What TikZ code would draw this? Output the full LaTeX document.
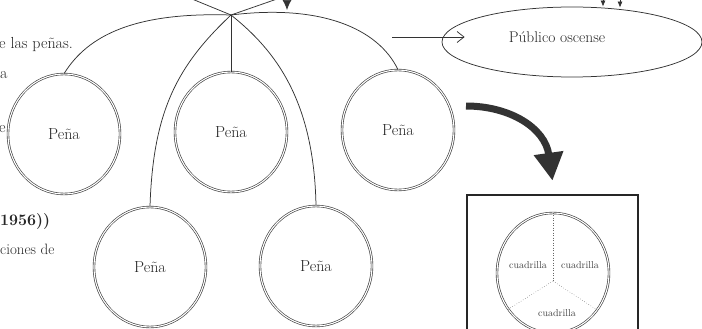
\documentclass[tikz,border=0pt]{standalone}
\usetikzlibrary{shapes.geometric,arrows.meta}
\begin{document}
\begin{tikzpicture}[x=1pt,y=-1pt,
  pena/.style={ellipse, draw=black!75, double, double distance=1.1pt, line width=0.65pt,
    minimum width=112pt, minimum height=120pt, inner sep=0pt,
    font=\fontsize{16}{19}\selectfont, text=black!85},
  conn/.style={draw=black!80, line width=0.75pt},
  lt/.style={anchor=west, inner sep=0pt, font=\fontsize{16}{19}\selectfont, text=black!85},
  cl/.style={inner sep=0pt, font=\fontsize{10}{12}\selectfont, text=black!75},
  divider/.style={draw=black!60, dotted, line width=0.5pt}]
\useasboundingbox (0,0) rectangle (702,329);

% left text fragments
\node[lt] (l1) at (-1,45) {e las peñas.};
\node[lt] (l2) at (0,75) {a};
\node[lt] (l3) at (-1,129) {e.};
\node[lt, font=\fontsize{16}{19}\selectfont\bfseries] (l4) at (0,222) {1956))};
\node[lt, font=\fontsize{15}{18}\selectfont] (l5) at (0,249) {ciones de};

% peñas
\node[pena] (p1) at (64,134) {Peña};
\node[pena] (p2) at (231,132) {Peña};
\node[pena] (p3) at (398,130) {Peña};
\node[pena] (p4) at (150,267) {Peña};
\node[pena] (p5) at (316,266) {Peña};

% hub and connectors
\coordinate (hub) at (231,15);
\coordinate (ul) at (192,-1);
\coordinate (ur) at (277,-1);
\draw[conn] (p1.north) .. controls (88,35) and (135,12) .. (hub)
            .. controls (320,4) and (378,28) .. (p3.north);
\draw[conn] (hub) -- (ul);
\draw[conn] (hub) -- (ur);
\draw[conn] (hub) -- (p2.north);
\draw[conn] (hub) .. controls (178,65) and (153,110) .. (p4.north);
\draw[conn] (hub) .. controls (275,50) and (314,100) .. (p5.north);

\coordinate (da) at (287,-3);
\coordinate (daT) at (287,10);
\draw[conn, -{Latex[length=10pt,width=9pt]}] (da) -- (daT);

% Público oscense
\node[ellipse, draw=black!80, line width=0.75pt, minimum width=260pt, minimum height=70pt,
      inner sep=0pt] (pub) at (572,42) {};
\node[inner sep=0pt, font=\fontsize{15.5}{18}\selectfont, text=black!85] (publbl) at (557,37) {Público oscense};
\coordinate (a1) at (392,37);
\draw[conn, -{Straight Barb[length=7pt,width=11pt]}] (a1) -- ([xshift=23pt,yshift=5pt]pub.west);
\coordinate (t1) at (603,-4);
\coordinate (t2) at (620,-4);
\draw[conn, -{Latex[length=6pt,width=5pt]}] (t1) -- (t1 |- pub.north);
\draw[conn, -{Latex[length=6pt,width=5pt]}] (t2) -- ([yshift=-1pt]t2 |- pub.north);

% box with cuadrillas
\node[draw=black!85, line width=2.5pt, minimum width=171pt, minimum height=154pt, inner sep=0pt] (box) at (552.5,272) {};
\coordinate (b1) at (466,106);
\draw[line width=7pt, draw=black!80, -{Triangle[length=28pt,width=28pt]}]
  (b1) .. controls (510,106) and (545,128) .. ([yshift=13pt]box.north);

\node[ellipse, draw=black!75, double, double distance=1.1pt, line width=0.65pt,
      minimum width=112pt, minimum height=120pt, inner sep=0pt] (cq) at (553,273) {};
\coordinate (j) at (553,281);
\draw[divider] (cq.north) -- (j);
\draw[divider] (j) -- (cq.219);
\draw[divider] (j) -- (cq.320);
\node[cl] (c1) at (528,265) {cuadrilla};
\node[cl] (c2) at (580,265) {cuadrilla};
\node[cl] (c3) at (557,313) {cuadrilla};
\end{tikzpicture}
\end{document}
